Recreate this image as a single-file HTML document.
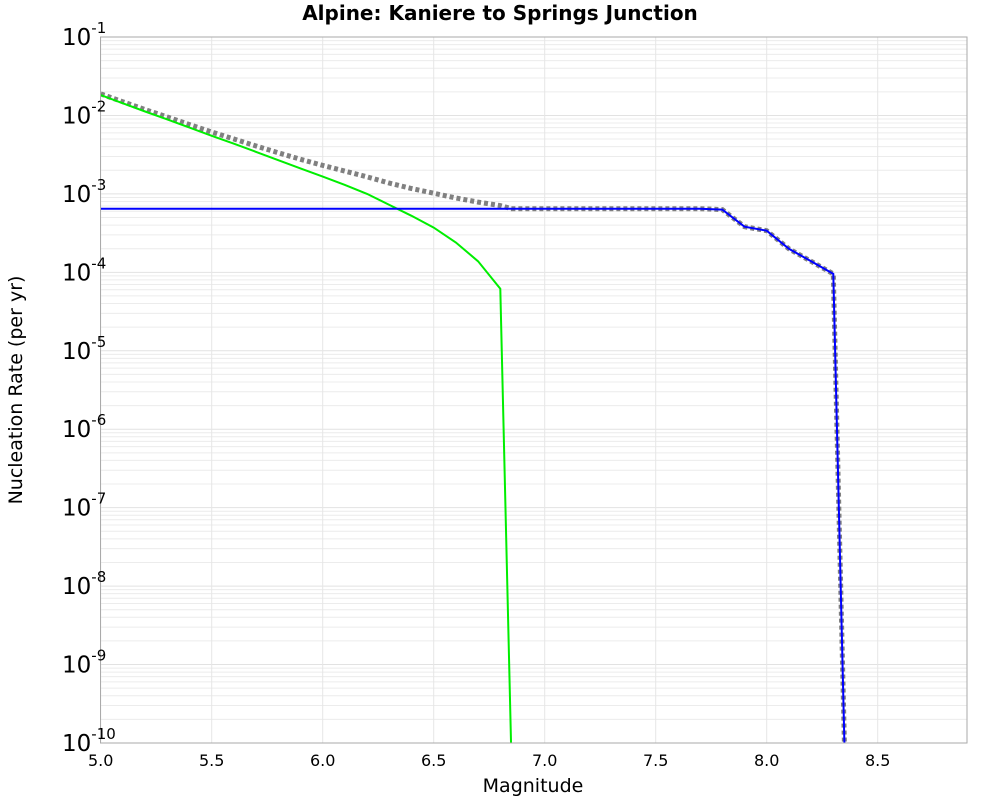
<!DOCTYPE html>
<html><head><meta charset="utf-8"><style>
body{margin:0;background:#fff;font-family:"Liberation Sans","DejaVu Sans",sans-serif;}
</style></head><body>
<svg id="chart" width="1000" height="800" xmlns="http://www.w3.org/2000/svg" font-family="DejaVu Sans, Liberation Sans, sans-serif">
<text x="500" y="20" text-anchor="middle" font-size="20" font-weight="bold">Alpine: Kaniere to Springs Junction</text>
<text x="533" y="792" text-anchor="middle" font-size="19">Magnitude</text>
<text transform="translate(22,390) rotate(-90)" text-anchor="middle" font-size="19">Nucleation Rate (per yr)</text>
<g id="grid"></g>
<g id="series"></g>
<rect x="100.5" y="37" width="866.5" height="706" fill="none" stroke="#aaa" stroke-width="1"/>
<g id="axes"></g>
</svg>
<script>
const greenMags=[5.0,5.1,5.2,5.3,5.4,5.5,5.6,5.7,5.8,5.9,6.0,6.1,6.2,6.3,6.4,6.5,6.6,6.7,6.8,6.85];
const greenLog=[-1.74,-1.845,-1.95,-2.05,-2.155,-2.26,-2.36,-2.465,-2.57,-2.675,-2.78,-2.885,-3.0,-3.14,-3.28,-3.43,-3.62,-3.86,-4.21,-10.2];
const blueMags=[5.0,5.1,5.2,5.3,5.4,5.5,5.6,5.7,5.8,5.9,6.0,6.1,6.2,6.3,6.4,6.5,6.6,6.7,6.8,6.9,7.0,7.1,7.2,7.3,7.4,7.5,7.6,7.7,7.8,7.9,8.0,8.1,8.2,8.3,8.35];
const blueLog=[-3.189,-3.189,-3.189,-3.189,-3.189,-3.189,-3.189,-3.189,-3.189,-3.189,-3.189,-3.189,-3.189,-3.189,-3.189,-3.189,-3.189,-3.189,-3.189,-3.189,-3.189,-3.189,-3.189,-3.189,-3.189,-3.189,-3.189,-3.189,-3.2,-3.418,-3.47,-3.70,-3.86,-4.02,-10.0];
const xTicks=["5.0","5.5","6.0","6.5","7.0","7.5","8.0","8.5"];
const yExps=[-1,-2,-3,-4,-5,-6,-7,-8,-9,-10];
const NS="http://www.w3.org/2000/svg";
const X0=100.7,XS=222,Y0=37,YS=78.44;
function xs(m){return X0+(m-5)*XS;}
function ys(l){return Y0+(-1-l)*YS;}
function mk(t,a,p){const e=document.createElementNS(NS,t);for(const k in a)e.setAttribute(k,a[k]);p.appendChild(e);return e;}
const grid=document.getElementById('grid'),axes=document.getElementById('axes'),ser=document.getElementById('series');
for(let d=-10;d<-1;d++){for(let k=2;k<=9;k++){const y=ys(d+Math.log10(k));
const l=mk('line',{x1:100.5,x2:967,y1:y,y2:y,stroke:'#ececec','stroke-width':1},grid);

}}
yExps.forEach(e=>{const y=ys(e);
const l=mk('line',{x1:100.5,x2:967,y1:y,y2:y,stroke:'#e2e2e2','stroke-width':1},grid);


const t=mk('text',{x:62,y:y+8,'text-anchor':'start','font-size':23},axes);


t.innerHTML='10<tspan dy="-12" font-size="15">'+e+'</tspan>';});
xTicks.forEach(s=>{const x=xs(parseFloat(s));
const l=mk('line',{x1:x,x2:x,y1:37,y2:743,stroke:'#e6e6e6','stroke-width':1},grid);


const t=mk('text',{x:x,y:766,'text-anchor':'middle','font-size':16},axes);


t.textContent=s;});
function interp(ms,ls,m){if(m<ms[0]||m>ms[ms.length-1])return null;for(let i=0;i<ms.length-1;i++){if(m>=ms[i]-1e-9&&m<=ms[i+1]+1e-9){const f=(m-ms[i])/(ms[i+1]-ms[i]);return ls[i]+f*(ls[i+1]-ls[i]);}}return ls[ls.length-1];}
const allM=[...new Set([...greenMags,...blueMags])].sort((a,b)=>a-b);
const totalPts=allM.map(m=>{let s=0;const g=interp(greenMags,greenLog,m),b=interp(blueMags,blueLog,m);if(g!==null)s+=Math.pow(10,g);if(b!==null)s+=Math.pow(10,b);return [m,Math.log10(s)];});
const defs=mk('clipPath',{id:'clip'},ser);mk('rect',{x:100.5,y:37,width:866.5,height:706},defs);
function path(ms,ls,attrs,name){const d=ms.map((m,i)=>(i?'L':'M')+xs(m).toFixed(1)+','+ys(ls[i]).toFixed(1)).join(' ');
const p=mk('path',Object.assign({d:d,fill:'none','clip-path':'url(#clip)'},attrs),ser);

}
path(totalPts.map(p=>p[0]),totalPts.map(p=>p[1]),{stroke:'#808080','stroke-width':5,'stroke-dasharray':'4,3'},'total-rate-line');
path(greenMags,greenLog,{stroke:'#00ee00','stroke-width':2},'green-rate-line');
path(blueMags,blueLog,{stroke:'#0000ff','stroke-width':2},'blue-rate-line');
</script>
</body></html>
